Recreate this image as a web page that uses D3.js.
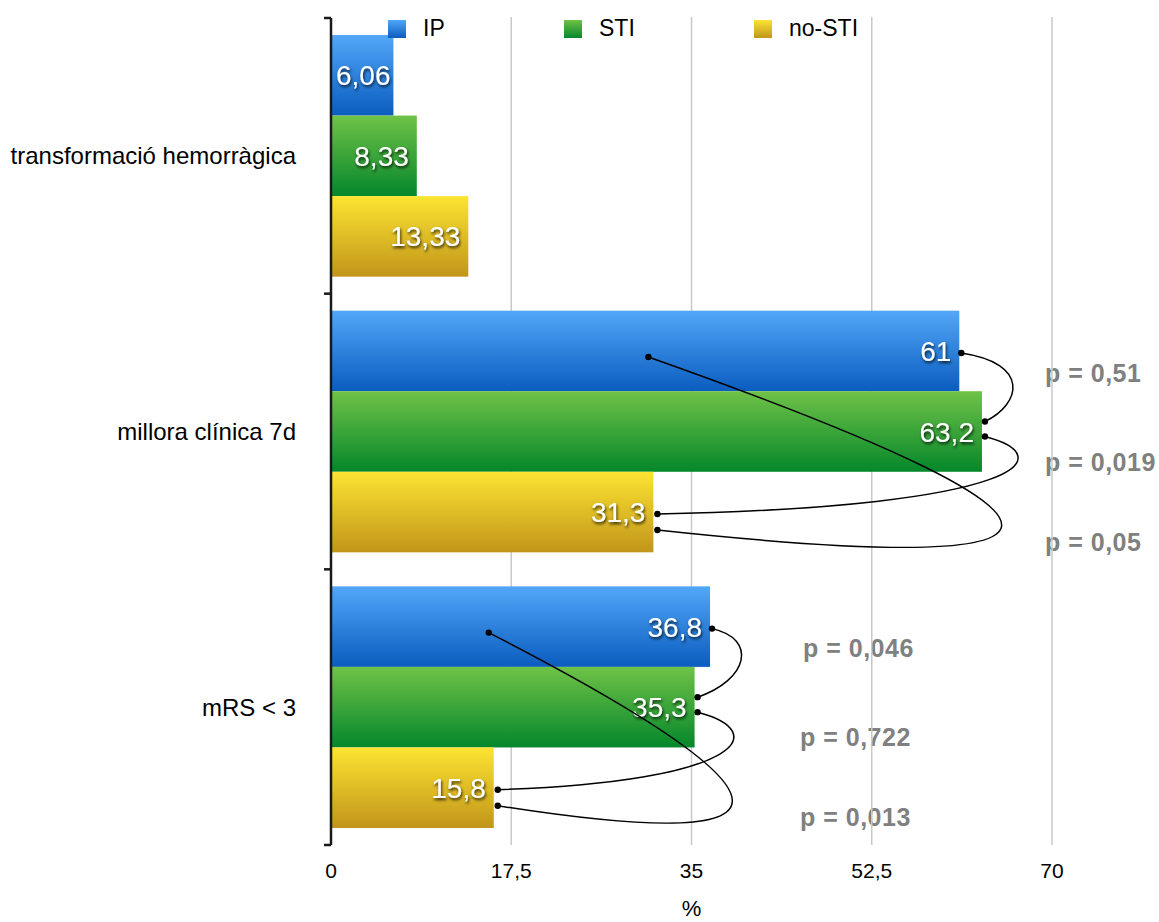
<!DOCTYPE html>
<html>
<head>
<meta charset="utf-8">
<script src="https://cdn.jsdelivr.net/npm/d3@7"></script>
<style>
  html, body { margin: 0; padding: 0; background: #fff; }
  svg { display: block; font-family: "Liberation Sans", Arial, Helvetica, sans-serif; }
</style>
</head>
<body>
<svg id="chart" width="1159" height="922"></svg>
<script>
// ---------- DATA ----------
const categories = ["transformació hemorràgica", "millora clínica 7d", "mRS < 3"];
const seriesNames = ["IP", "STI", "no-STI"];
const valuesIP    = [6.06, 61, 36.8];
const valuesSTI   = [8.33, 63.2, 35.3];
const valuesNoSTI = [13.33, 31.3, 15.8];
const valueLabelsIP    = ["6,06", "61", "36,8"];
const valueLabelsSTI   = ["8,33", "63,2", "35,3"];
const valueLabelsNoSTI = ["13,33", "31,3", "15,8"];
const xTicks = [0, 17.5, 35, 52.5, 70];
const xTickLabels = ["0", "17,5", "35", "52,5", "70"];
const xTitle = "%";
// comparisons (p-values) per category: IP vs STI, STI vs no-STI, IP vs no-STI
const compCategory = ["millora clínica 7d", "millora clínica 7d", "millora clínica 7d", "mRS < 3", "mRS < 3", "mRS < 3"];
const compType     = ["IP-STI", "STI-noSTI", "IP-noSTI", "IP-STI", "STI-noSTI", "IP-noSTI"];
const compP        = ["p = 0,51", "p = 0,019", "p = 0,05", "p = 0,046", "p = 0,722", "p = 0,013"];

// ---------- LAYOUT ----------
const svg = d3.select("#chart");
const X0 = 331, X1 = 1052, Y0 = 18, Y1 = 845;
const gradStops = {
  "IP":     ["#52a7f8", "#0a5dbf"],
  "STI":    ["#6fc247", "#05872b"],
  "no-STI": ["#fce432", "#c1951a"]
};

const values = { "IP": valuesIP, "STI": valuesSTI, "no-STI": valuesNoSTI };
const vLabels = { "IP": valueLabelsIP, "STI": valueLabelsSTI, "no-STI": valueLabelsNoSTI };

const x = d3.scaleLinear().domain([0, 70]).range([X0, X1]);
const y0 = d3.scaleBand().domain(categories).range([Y0, Y1]).padding(0);
const y1 = d3.scaleBand().domain(seriesNames).range([17, y0.bandwidth() - 17]).padding(0);

const defs = svg.append("defs");
seriesNames.forEach((s, i) => {
  const g = defs.append("linearGradient").attr("id", "grad" + i)
    .attr("x1", 0).attr("y1", 0).attr("x2", 0).attr("y2", 1);
  g.append("stop").attr("offset", "0%").attr("stop-color", gradStops[s][0]);
  g.append("stop").attr("offset", "100%").attr("stop-color", gradStops[s][1]);
});
const f = defs.append("filter").attr("id", "shadow")
  .attr("x", "-20%").attr("y", "-20%").attr("width", "140%").attr("height", "160%");
f.append("feDropShadow").attr("dx", 1).attr("dy", 2).attr("stdDeviation", 1.4)
  .attr("flood-color", "#000").attr("flood-opacity", 0.8);

// p-value labels (drawn under gridlines)
const pLabelX = { "millora clínica 7d": 1045, "mRS < 3": 800 };
const pLabelDY = { "IP-STI": 88, "STI-noSTI": 177, "IP-noSTI": 257 };
svg.append("g").selectAll("text").data(compP).join("text")
  .attr("x", (d, i) => pLabelX[compCategory[i]] + (i === 3 ? 3 : 0))
  .attr("y", (d, i) => y0(compCategory[i]) + pLabelDY[compType[i]])
  .attr("font-size", 25).attr("font-weight", "bold").attr("fill", "#808080")
  .attr("letter-spacing", 0.5)
  .text(d => d);

// gridlines
svg.append("g").selectAll("line").data(xTicks.slice(1)).join("line")
  .attr("x1", d => x(d)).attr("x2", d => x(d))
  .attr("y1", Y0 - 1).attr("y2", Y1)
  .attr("stroke", "#c9c9c9").attr("stroke-width", 1.5);

// bars
const gGroups = svg.append("g").selectAll("g").data(categories).join("g")
  .attr("transform", d => `translate(0,${y0(d)})`);
seriesNames.forEach((s, si) => {
  gGroups.append("rect")
    .attr("x", X0)
    .attr("y", y1(s))
    .attr("width", (d, i) => x(values[s][i]) - X0)
    .attr("height", y1.bandwidth())
    .attr("fill", `url(#grad${si})`);
});

// value labels
seriesNames.forEach((s) => {
  gGroups.append("text")
    .attr("y", y1(s) + y1.bandwidth() / 2)
    .attr("dy", "0.36em")
    .attr("text-anchor", "end")
    .attr("font-size", 28)
    .attr("fill", "#fff")
    .attr("filter", "url(#shadow)")
    .text((d, i) => vLabels[s][i])
    .attr("x", function (d, i) {
      const w = this.getComputedTextLength();
      const end = x(values[s][i]) - 8;
      return Math.max(end, X0 + 5 + w);
    });
});

// y axis
const yAxisG = svg.append("g");
yAxisG.append("line").attr("x1", X0).attr("x2", X0).attr("y1", Y0).attr("y2", Y1)
  .attr("stroke", "#1a1a1a").attr("stroke-width", 2.5);
const yTickPos = categories.map(c => y0(c)).concat([Y1]);
yAxisG.selectAll("line.tk").data(yTickPos).join("line").attr("class", "tk")
  .attr("x1", X0 - 7).attr("x2", X0).attr("y1", d => d).attr("y2", d => d)
  .attr("stroke", "#1a1a1a").attr("stroke-width", 2.5);
yAxisG.selectAll("text").data(categories).join("text")
  .attr("x", X0 - 35)
  .attr("y", d => y0(d) + y0.bandwidth() / 2)
  .attr("dy", "0.35em")
  .attr("text-anchor", "end").attr("font-size", 24).attr("fill", "#000")
  .text(d => d);

// x tick labels
svg.append("g").selectAll("text").data(xTicks).join("text")
  .attr("x", d => x(d)).attr("y", 878)
  .attr("text-anchor", "middle").attr("font-size", 21).attr("fill", "#000")
  .text((d, i) => xTickLabels[i]);
svg.append("text").attr("x", x(35)).attr("y", 916)
  .attr("text-anchor", "middle").attr("font-size", 22).attr("fill", "#000").text(xTitle);

// legend
const legX = [388, 564, 754];
const lg = svg.append("g").selectAll("g").data(seriesNames).join("g")
  .attr("transform", (d, i) => `translate(${legX[i]},20)`);
lg.append("rect").attr("width", 18).attr("height", 18).attr("fill", (d, i) => `url(#grad${i})`);
lg.append("text").attr("x", 35).attr("y", 16).attr("font-size", 23).attr("fill", "#000").text(d => d);

// connectors
const cg = svg.append("g");
function barY(cat, s) { return y0(cat) + y1(s) + y1.bandwidth() / 2; }
function idx(cat) { return categories.indexOf(cat); }
compType.forEach((t, k) => {
  const cat = compCategory[k], i = idx(cat);
  const vI = valuesIP[i], vS = valuesSTI[i], vN = valuesNoSTI[i];
  let A, B, P1, P2;
  if (t === "IP-STI") {
    A = [x(vI) + 2, barY(cat, "IP") + 2];
    B = [x(vS) + 3, barY(cat, "STI") - 10];
    const M = Math.max(A[0], B[0]) + 30, dy = B[1] - A[1];
    P1 = [M + 16, A[1] + 0.15 * dy];
    P2 = [M + 6, B[1] - 0.25 * dy];
  } else if (t === "STI-noSTI") {
    A = [x(vS) + 3, barY(cat, "STI") + 5];
    B = [x(vN) + 4, barY(cat, "no-STI") + 2];
    const reach = A[0] + 35, dy = B[1] - A[1];
    P1 = [reach + 40, A[1] + 0.25 * dy];
    P2 = [reach + 10, B[1] - 0.1 * dy];
  } else {
    A = [x(vN) - 5, barY(cat, "IP") + 6];
    B = [x(vN) + 4, barY(cat, "no-STI") + 18];
    const reach = Math.max(x(vI), x(vS)) + 27, w = reach - A[0];
    P1 = [A[0] + 1.42 * w, B[1] + 8];
    P2 = [A[0] + 1.18 * w, B[1] + 45];
  }
  const p = d3.path();
  p.moveTo(A[0], A[1]);
  p.bezierCurveTo(P1[0], P1[1], P2[0], P2[1], B[0], B[1]);
  cg.append("path").attr("d", p.toString()).attr("fill", "none")
    .attr("stroke", "#000").attr("stroke-width", 1.5);
  cg.append("circle").attr("cx", A[0]).attr("cy", A[1]).attr("r", 3.2).attr("fill", "#000");
  cg.append("circle").attr("cx", B[0]).attr("cy", B[1]).attr("r", 3.2).attr("fill", "#000");
});
</script>
</body>
</html>
